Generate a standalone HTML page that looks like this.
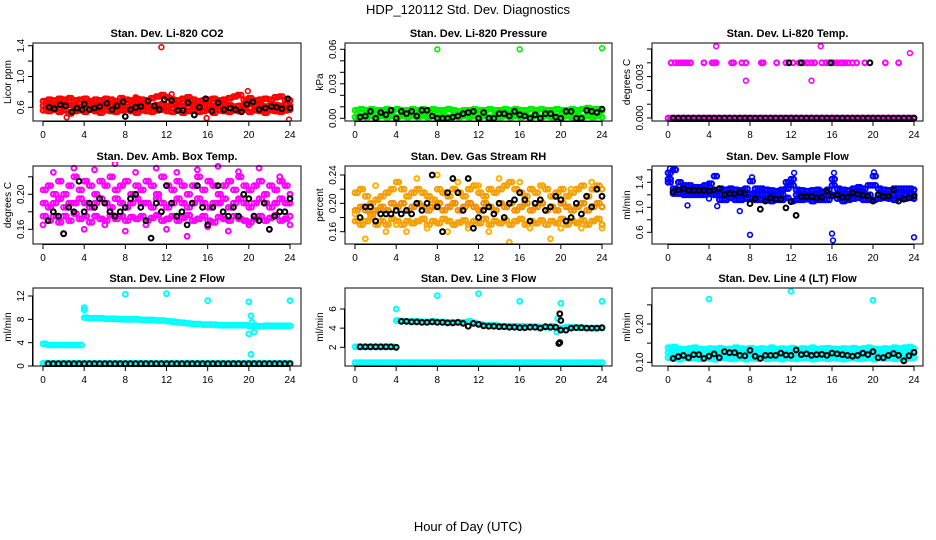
<!DOCTYPE html>
<html><head><meta charset="utf-8">
<style>
html,body{margin:0;padding:0;background:#fff;}
svg{display:block;font-family:"Liberation Sans",Arial,sans-serif;}
</style></head>
<body>
<svg id="chart" width="936" height="540" viewBox="0 0 936 540" xmlns="http://www.w3.org/2000/svg">
<text x="468" y="14" text-anchor="middle" font-size="13">HDP_120112  Std. Dev. Diagnostics</text>
<text x="468" y="531" text-anchor="middle" font-size="13">Hour of Day (UTC)</text>
<g id="panels"></g>
</svg>
<script>
// ---------- data ----------
const xTicks = [0,4,8,12,16,20,24];
// P1 CO2
const co2Hi = [0.68,0.70,0.69,0.71,0.70,0.72,0.69,0.70,0.71,0.68,0.70,0.69,0.71,0.70,0.68,0.72,0.70,0.69,0.71,0.70,0.69,0.72,0.74,0.76,0.73,0.70,0.69,0.71,0.73,0.70,0.68,0.69,0.70,0.71,0.69,0.70,0.72,0.74,0.76,0.70,0.72,0.69,0.70,0.71,0.70,0.73,0.74,0.70,0.69];
const co2Mid = [0.62,0.63,0.61,0.64,0.62,0.63,0.62,0.61,0.63,0.64,0.62,0.61,0.63,0.62,0.64,0.63,0.61,0.62,0.63,0.64,0.62,0.61,0.63,0.64,0.62,0.63,0.61,0.62,0.64,0.63,0.62,0.61,0.63,0.62,0.64,0.62,0.63,0.61,0.62,0.63,0.64,0.62,0.63,0.61,0.62,0.63,0.62,0.64,0.62];
const co2Lo = [0.56,0.55,0.57,0.54,0.56,0.52,0.55,0.56,0.54,0.57,0.55,0.53,0.56,0.55,0.54,0.56,0.57,0.55,0.53,0.56,0.55,0.54,0.56,0.57,0.55,0.54,0.56,0.53,0.55,0.56,0.54,0.55,0.57,0.53,0.56,0.55,0.54,0.56,0.55,0.57,0.54,0.56,0.55,0.53,0.56,0.55,0.54,0.56,0.57];
const co2OutT = [11.5,19.9,2.3,15.9,23.9,12.5,18.9,9.0,14.0];
const co2OutV = [1.38,0.81,0.47,0.46,0.44,0.77,0.76,0.73,0.73];
const co2BlkT = [0.6,1.1,1.7,2.2,2.8,3.3,3.8,4.0,4.5,5.0,5.5,6.2,6.7,7.2,7.8,8.0,8.5,9.0,9.5,10.2,10.8,11.3,11.8,12.5,13.1,13.6,14.1,14.7,15.2,15.8,16.4,17.0,17.6,18.2,18.7,19.3,19.8,20.4,21.0,21.6,22.2,22.7,23.2,23.8,24.0];
const co2BlkV = [0.60,0.58,0.63,0.62,0.54,0.59,0.57,0.64,0.57,0.59,0.61,0.65,0.57,0.62,0.67,0.48,0.57,0.60,0.61,0.68,0.62,0.57,0.70,0.69,0.56,0.56,0.66,0.50,0.60,0.71,0.55,0.66,0.57,0.59,0.57,0.54,0.64,0.67,0.57,0.59,0.61,0.60,0.58,0.71,0.59];
// P2 pressure
const prsHi = [0.007,0.008,0.007,0.008,0.007,0.007,0.008,0.007,0.008,0.007,0.007,0.008,0.007,0.008,0.007,0.008,0.007,0.007,0.008,0.007,0.006,0.007,0.007,0.008,0.007,0.007,0.008,0.007,0.007,0.008,0.007,0.008,0.007,0.007,0.008,0.007,0.008,0.007,0.007,0.008,0.007,0.007,0.008,0.007,0.008,0.009,0.008,0.008,0.007];
const prsLo = [0.001,0.002,0.001,0.002,0.001,0.002,0.001,0.002,0.001,0.002,0.001,0.002,0.001,0.002,0.001,0.002,0.001,0.002,0.001,0.002,0.001,0.002,0.001,0.002,0.001,0.002,0.001,0.002,0.001,0.002,0.001,0.002,0.001,0.002,0.001,0.002,0.001,0.002,0.001,0.002,0.001,0.002,0.001,0.002,0.001,0.002,0.001,0.002,0.001];
const prsOutT = [8,16,24];
const prsOutV = [0.060,0.060,0.061];
const prsBlk = [0.001,0.002,0.006,0.000,0.005,0.003,0.007,0.000,0.006,0.004,0.006,0.002,0.007,0.007,0.002,0.000,0.000,0.000,0.001,0.002,0.004,0.005,0.006,0.000,0.005,0.000,0.000,0.004,0.004,0.002,0.006,0.003,0.002,0.000,0.003,0.000,0.004,0.004,0.001,0.000,0.006,0.006,0.000,0.000,0.007,0.006,0.005,0.008];
// P3 temp
const tmpHiT = [0.3,0.7,1.0,1.3,1.6,1.9,2.2,3.5,4.3,4.5,4.7,6.2,6.4,7.2,7.6,9.1,9.3,10.6,11.5,12.2,12.8,13.3,13.6,14.0,14.3,15.0,15.4,15.7,16.2,16.5,16.8,17.0,17.3,17.6,18.0,18.4,19.2,21.2,22.5];
const tmpHiV = [0.004,0.004,0.004,0.004,0.004,0.004,0.004,0.004,0.004,0.004,0.004,0.004,0.004,0.004,0.004,0.004,0.004,0.004,0.004,0.004,0.004,0.004,0.004,0.004,0.004,0.004,0.004,0.004,0.004,0.004,0.004,0.004,0.004,0.004,0.004,0.004,0.004,0.004,0.004];
const tmpOutT = [4.7,14.9,7.6,14.0,23.6];
const tmpOutV = [0.0052,0.0052,0.0027,0.0027,0.0047];
const tmpBlkHiT = [11.8,13.0,15.9,19.7];
const tmpBlkHiV = [0.004,0.004,0.004,0.004];
// P4 amb box temp
const ambHi = [.205,.21,.20,.215,.20,.21,.22,.205,.215,.21,.20,.215,.21,.22,.205,.21,.215,.20,.21,.205,.215,.21,.20,.22,.21,.205,.215,.21,.20,.21,.22,.205,.215,.21,.20,.21,.215,.205,.22,.21,.205,.21,.215,.20,.21,.205,.215,.21,.20];
const ambMid = [.19,.185,.19,.195,.185,.19,.19,.195,.19,.185,.19,.195,.19,.185,.195,.19,.185,.19,.195,.19,.19,.185,.195,.19,.185,.19,.195,.19,.185,.19,.195,.19,.185,.19,.19,.195,.185,.19,.195,.19,.185,.19,.195,.19,.185,.19,.195,.19,.19];
const ambLo = [.175,.17,.175,.168,.175,.17,.178,.172,.175,.168,.175,.172,.17,.176,.172,.175,.17,.174,.172,.175,.17,.173,.176,.17,.172,.175,.17,.173,.176,.17,.172,.175,.17,.168,.174,.172,.17,.175,.172,.17,.168,.172,.175,.17,.173,.176,.17,.172,.175];
const ambOut = [0.165,0.225,0.155,0.23,0.16,0.228,0.165,0.235,0.158,0.225,0.165,0.23,0.16,0.225,0.152,0.228,0.163,0.232,0.158,0.226,0.165,0.23,0.16,0.22,0.165];
const ambBlk = [.17,.18,.175,.155,.185,.18,.215,.18,.19,.185,.195,.19,.18,.175,.18,.185,.195,.2,.185,.17,.15,.19,.18,.21,.19,.175,.18,.165,.19,.21,.185,.165,.185,.21,.18,.175,.185,.175,.2,.195,.175,.17,.19,.16,.175,.18,.18,.195];
// P5 RH
const rhHi = [.215,.22,.21,.2,.205,.21,.215,.22,.23,.22,.21,.215,.22,.215,.21,.205,.22,.215,.21,.22,.215,.21,.22,.225,.215,.21,.22,.215,.22,.225,.23,.22,.215,.21,.22,.215,.225,.22,.21,.215,.22,.21,.215,.22,.225,.21,.22,.225,.22];
const rhMid = [.19,.195,.19,.185,.19,.195,.19,.2,.195,.2,.19,.195,.2,.195,.19,.195,.2,.19,.195,.2,.19,.195,.2,.195,.19,.2,.195,.19,.2,.195,.2,.19,.195,.2,.19,.195,.2,.19,.195,.19,.2,.195,.19,.195,.2,.19,.195,.2,.195];
const rhLo = [.175,.17,.175,.18,.17,.175,.17,.178,.175,.17,.175,.172,.175,.178,.17,.175,.172,.178,.175,.17,.173,.176,.17,.175,.172,.178,.17,.175,.172,.176,.17,.175,.178,.17,.175,.172,.176,.17,.175,.172,.178,.17,.175,.172,.176,.17,.175,.178,.17];
const rhOut = [.185,.15,.225,.16,.17,.16,.235,.165,.24,.16,.23,.165,.225,.16,.235,.145,.23,.165,.225,.15,.165,.22,.165,.23,.165];
const rhBlk = [.18,.195,.195,.175,.185,.185,.185,.19,.185,.19,.185,.2,.19,.2,.24,.195,.16,.215,.235,.215,.19,.235,.165,.18,.19,.195,.185,.2,.18,.2,.205,.215,.205,.175,.2,.205,.19,.195,.21,.205,.175,.18,.2,.185,.21,.195,.22,.21];
// P6 sample flow
const sfHi = [1.55,1.6,1.4,1.35,1.35,1.32,1.32,1.35,1.38,1.5,1.3,1.28,1.3,1.28,1.27,1.3,1.42,1.3,1.3,1.28,1.27,1.26,1.28,1.4,1.45,1.28,1.27,1.26,1.27,1.28,1.25,1.28,1.45,1.3,1.28,1.27,1.3,1.32,1.3,1.35,1.5,1.3,1.28,1.27,1.3,1.3,1.3,1.3,1.28];
const sfMid = [1.45,1.3,1.28,1.25,1.26,1.25,1.25,1.26,1.27,1.25,1.2,1.2,1.22,1.2,1.2,1.22,1.22,1.2,1.2,1.2,1.18,1.2,1.2,1.3,1.35,1.2,1.2,1.2,1.18,1.2,1.2,1.2,1.35,1.2,1.18,1.2,1.2,1.22,1.2,1.2,1.35,1.2,1.2,1.2,1.2,1.22,1.2,1.22,1.2];
const sfLo = [1.4,1.22,1.22,1.2,1.2,1.2,1.2,1.2,1.22,1.2,1.12,1.12,1.15,1.12,1.12,1.14,1.15,1.12,1.12,1.12,1.1,1.12,1.12,1.15,1.1,1.12,1.12,1.13,1.1,1.12,1.12,1.12,1.2,1.14,1.1,1.12,1.14,1.15,1.12,1.12,1.12,1.14,1.15,1.14,1.12,1.15,1.14,1.15,1.14];
const sfOutT = [1.9,7.0,8.0,16.0,16.1,24.0,4.0,4.8,0.2,8.2,12.3,16.2,20.1];
const sfOutV = [1.03,0.94,0.56,0.58,0.47,0.52,1.14,1.02,1.62,1.48,1.55,1.55,1.56];
const sfBlk = [1.25,1.28,1.3,1.27,1.27,1.27,1.27,1.26,1.28,1.3,1.2,1.22,1.22,1.24,1.22,1.06,1.14,0.97,1.1,1.15,1.13,1.13,0.99,1.09,0.87,1.17,1.17,1.17,1.15,1.16,1.26,1.18,1.2,1.16,1.16,1.23,1.21,1.19,1.18,1.1,1.2,1.17,1.18,1.28,1.1,1.13,1.15,1.18];
// P7 line 2
const l2Hi = [3.8,3.6,3.6,3.6,3.6,3.6,3.6,3.6,8.3,8.2,8.2,8.2,8.1,8.1,8.1,8.0,8.0,8.0,8.0,7.9,7.9,7.9,7.8,7.8,7.7,7.6,7.5,7.4,7.3,7.2,7.2,7.1,7.1,7.1,7.0,7.0,7.0,7.0,7.0,7.0,6.9,6.9,6.8,6.9,6.9,6.9,6.9,6.9,6.9];
const l2Lo = [0.5,0.5,0.5,0.5,0.5,0.5,0.5,0.5,0.5,0.5,0.5,0.5,0.5,0.5,0.5,0.5,0.5,0.5,0.5,0.5,0.5,0.5,0.5,0.5,0.5,0.5,0.5,0.5,0.5,0.5,0.5,0.5,0.5,0.5,0.5,0.5,0.5,0.5,0.5,0.5,0.5,0.5,0.5,0.5,0.5,0.5,0.5,0.5,0.5];
const l2OutT = [4.0,4.0,8.0,12.0,16.0,20.0,24.0,20.0,20.2,20.3,20.2,20.5];
const l2OutV = [10.0,9.6,12.3,12.4,11.2,11.0,11.2,5.5,8.6,7.5,2.0,5.8];
const l2Blk = [0.4,0.4,0.4,0.4,0.4,0.4,0.4,0.4,0.4,0.4,0.4,0.4,0.4,0.4,0.4,0.4,0.4,0.4,0.4,0.4,0.4,0.4,0.4,0.4,0.4,0.4,0.4,0.4,0.4,0.4,0.4,0.4,0.4,0.4,0.4,0.4,0.4,0.4,0.4,0.4,0.4,0.4,0.4,0.4,0.4,0.4,0.4,0.4];
// P8 line 3
const l3Hi = [2.05,2.05,2.05,2.05,2.05,2.05,2.05,2.05,4.8,4.75,4.7,4.7,4.7,4.65,4.65,4.7,4.65,4.65,4.6,4.6,4.6,4.6,4.7,4.55,4.4,4.3,4.3,4.3,4.2,4.2,4.2,4.2,4.2,4.15,4.15,4.15,4.1,4.1,4.2,4.0,4.0,4.1,4.1,4.05,4.05,4.0,4.0,4.0,4.0];
const l3Lo = [0.4,0.4,0.4,0.4,0.4,0.4,0.4,0.4,0.4,0.4,0.4,0.4,0.4,0.4,0.4,0.4,0.4,0.4,0.4,0.4,0.4,0.4,0.4,0.4,0.4,0.4,0.4,0.4,0.4,0.4,0.4,0.4,0.4,0.4,0.4,0.4,0.4,0.4,0.4,0.4,0.4,0.4,0.4,0.4,0.4,0.4,0.4,0.4,0.4];
const l3OutT = [4.0,8.0,12.0,16.0,20.0,24.0,19.7,19.6];
const l3OutV = [6.0,7.4,7.6,6.8,6.6,6.8,5.0,3.6];
const l3Blk = [2.05,2.05,2.05,2.05,2.05,2.05,2.05,2.0,4.7,4.7,4.65,4.65,4.6,4.6,4.65,4.6,4.6,4.55,4.55,4.6,4.5,4.2,4.5,4.4,4.25,4.2,4.2,4.15,4.15,4.1,4.1,4.05,4.05,4.1,4.1,4.0,4.15,4.1,4.1,3.8,3.8,4.0,4.05,4.05,4.0,4.0,4.0,4.05];
const l3BlkOutT = [19.8,19.9,19.9,20.0];
const l3BlkOutV = [2.4,2.5,5.5,4.8];
// P9 line 4
const l4Hi = [.138,.14,.135,.134,.136,.138,.135,.134,.136,.135,.137,.134,.135,.138,.136,.135,.137,.134,.136,.135,.138,.134,.136,.135,.137,.134,.136,.135,.138,.134,.136,.137,.135,.134,.136,.135,.137,.134,.136,.138,.135,.134,.136,.135,.138,.136,.138,.14,.136];
const l4Mid = [.125,.124,.126,.123,.125,.124,.126,.125,.124,.126,.123,.125,.124,.126,.125,.123,.124,.126,.125,.124,.123,.125,.126,.124,.125,.123,.126,.124,.125,.126,.124,.123,.125,.126,.124,.125,.123,.126,.124,.125,.126,.124,.123,.125,.126,.124,.125,.126,.124];
const l4Lo = [.112,.11,.108,.112,.11,.111,.109,.112,.11,.108,.111,.112,.109,.11,.112,.108,.111,.11,.112,.109,.11,.111,.108,.112,.11,.109,.111,.112,.108,.11,.111,.109,.112,.11,.108,.111,.112,.109,.11,.112,.108,.111,.11,.112,.109,.11,.108,.111,.112];
const l4OutT = [4.0,12.0,20.0];
const l4OutV = [0.265,0.285,0.262];
const l4Blk = [.11,.115,.118,.112,.12,.12,.11,.116,.122,.112,.128,.125,.125,.118,.117,.131,.116,.11,.118,.118,.118,.124,.119,.118,.132,.12,.122,.118,.12,.121,.118,.124,.122,.12,.118,.116,.118,.124,.12,.128,.112,.112,.118,.123,.118,.104,.117,.126];

// ---------- helpers ----------
const NS = "http://www.w3.org/2000/svg";
const root = document.getElementById('panels');
function mk(tag, attrs, parent){ const e=document.createElementNS(NS,tag); for(const k in attrs) e.setAttribute(k,attrs[k]); (parent||root).appendChild(e); return e; }
const grid49 = []; for(let i=0;i<49;i++) grid49.push(i*0.5);
const gridB = []; for(let i=0;i<49;i++) gridB.push(Math.min(24, i*0.5+0.25));
const grid48 = []; for(let i=0;i<48;i++) grid48.push(0.5+i*0.5);
const grid25 = []; for(let i=0;i<25;i++) grid25.push(i);

function panel(p){
  const g = mk('g',{});
  
  
  const xs = t => p.x0 + (p.x24 - p.x0) * t / 24;
  const ys = v => p.ya[1] + (v - p.ya[0]) * (p.yb[1] - p.ya[1]) / (p.yb[0] - p.ya[0]);
  const tt = mk('text',{x:(p.L+p.R)/2, y:p.T-6, 'text-anchor':'middle','font-size':'11','font-weight':'bold'}, g);
  tt.textContent = p.title;
  
  
  const clip = 'clip-' + p.name;
  const cp = mk('clipPath',{id:clip}, g);
  mk('rect',{x:p.L, y:p.T-4, width:p.R-p.L, height:p.B-p.T+4}, cp);
  const sg = mk('g',{'clip-path':'url(#'+clip+')'}, g);
  p.series.forEach(s => {
    const sgg = mk('g',{fill:'none', stroke:s.c, 'stroke-width': s.w || '1.6'}, sg);
    
    
    const times = s.dense ? [s.t, gridB] : [s.t];
    times.forEach(tarr => {
      for(let i=0;i<s.v.length;i++){
        const c = mk('circle',{cx:xs(tarr[i]).toFixed(1), cy:ys(s.v[i]).toFixed(1), r:'2.4'}, sgg);
        
        
      }
    });
  });
  const bx = mk('rect',{x:p.L, y:p.T, width:p.R-p.L, height:p.B-p.T, fill:'none', stroke:'#000', 'stroke-width':'1'}, g);
  
  
  const xa = mk('g',{stroke:'#000','stroke-width':'1'}, g);
  
  
  mk('line',{x1:xs(0), x2:xs(24), y1:p.B+0.5, y2:p.B+0.5}, xa);
  xTicks.forEach(t => {
    mk('line',{x1:xs(t), x2:xs(t), y1:p.B, y2:p.B+5}, xa);
    const l = mk('text',{x:xs(t), y:p.B+17, 'text-anchor':'middle','font-size':'10', stroke:'none', fill:'#000'}, xa);
    l.textContent = t;
    
    
  });
  const ya = mk('g',{stroke:'#000','stroke-width':'1'}, g);
  
  
  mk('line',{x1:p.L-0.5, x2:p.L-0.5, y1:ys(p.yt[0]), y2:ys(p.yt[p.yt.length-1])}, ya);
  p.yt.forEach(v => mk('line',{x1:p.L-5, x2:p.L, y1:ys(v), y2:ys(v)}, ya));
  p.yl.forEach(lb => {
    const yy = ys(parseFloat(lb));
    const l = mk('text',{x:p.L-9, y:yy, 'text-anchor':'middle','font-size':'10', stroke:'none', fill:'#000', transform:'rotate(-90 '+(p.L-9)+' '+yy+')'}, ya);
    l.textContent = lb;
    
    
  });
  const ym = (p.T+p.B)/2;
  const yt = mk('text',{x:p.L-22, y:ym, 'text-anchor':'middle','font-size':'10', fill:'#000', transform:'rotate(-90 '+(p.L-22)+' '+ym+')'}, g);
  yt.textContent = p.ytitle;
  
  
}

const C1={L:33,R:301,x0:43,x24:290}, C2={L:345,R:612,x0:355,x24:602}, C3={L:652,R:923,x0:668,x24:914};
const R1={T:43,B:121}, R2={T:166,B:244}, R3={T:288,B:366};
const zeros48 = grid48.map(()=>0);
const zerosQ = []; for(let i=0;i<97;i++) zerosQ.push(0);
const gridQ = []; for(let i=0;i<97;i++) gridQ.push(i*0.25);

panel(Object.assign({name:'panel-co2', title:'Stan. Dev. Li-820 CO2', ytitle:'Licor ppm', ya:[0.6,107.3], yb:[1.4,45.7], yt:[0.6,0.8,1.0,1.2,1.4], yl:['0.6','1.0','1.4'],
  series:[{n:'co2-red-hi',c:'#ff0000',t:grid49,v:co2Hi,dense:1,w:'2'},{n:'co2-red-mid',c:'#ff0000',t:grid49,v:co2Mid,dense:1,w:'2'},{n:'co2-red-lo',c:'#ff0000',t:grid49,v:co2Lo,dense:1,w:'2'},{n:'co2-red-out',c:'#ff0000',t:co2OutT,v:co2OutV},{n:'co2-black',c:'#000',t:co2BlkT,v:co2BlkV,w:'2'}]}, C1, R1));
panel(Object.assign({name:'panel-pressure', title:'Stan. Dev. Li-820 Pressure', ytitle:'kPa', ya:[0,118.3], yb:[0.06,49.3], yt:[0,0.01,0.02,0.03,0.04,0.05,0.06], yl:['0.00','0.03','0.06'],
  series:[{n:'prs-green-hi',c:'#00ee00',t:grid49,v:prsHi,dense:1,w:'2'},{n:'prs-green-lo',c:'#00ee00',t:grid49,v:prsLo,dense:1,w:'2'},{n:'prs-green-out',c:'#00ee00',t:prsOutT,v:prsOutV},{n:'prs-black',c:'#000',t:grid48,v:prsBlk,w:'2'}]}, C2, R1));
panel(Object.assign({name:'panel-temp', title:'Stan. Dev. Li-820 Temp.', ytitle:'degrees C', ya:[0,118], yb:[0.003,76.6], yt:[0,0.001,0.002,0.003,0.004,0.005], yl:['0.000','0.003'],
  series:[{n:'tmp-mag-zero',c:'#ff00ff',t:gridQ,v:zerosQ,w:'2'},{n:'tmp-mag-hi',c:'#ff00ff',t:tmpHiT,v:tmpHiV,w:'2'},{n:'tmp-mag-out',c:'#ff00ff',t:tmpOutT,v:tmpOutV},{n:'tmp-black-zero',c:'#000',t:grid48,v:zeros48,w:'2'},{n:'tmp-black-hi',c:'#000',t:tmpBlkHiT,v:tmpBlkHiV,w:'2'}]}, C3, R1));
panel(Object.assign({name:'panel-ambtemp', title:'Stan. Dev. Amb. Box Temp.', ytitle:'degrees C', ya:[0.16,229.3], yb:[0.20,194.3], yt:[0.16,0.18,0.20,0.22], yl:['0.16','0.20'],
  series:[{n:'amb-mag-hi',c:'#ff00ff',t:grid49,v:ambHi,dense:1,w:'2'},{n:'amb-mag-mid',c:'#ff00ff',t:grid49,v:ambMid,dense:1,w:'2'},{n:'amb-mag-lo',c:'#ff00ff',t:grid49,v:ambLo,dense:1,w:'2'},{n:'amb-mag-out',c:'#ff00ff',t:grid25,v:ambOut,w:'2'},{n:'amb-black',c:'#000',t:grid48,v:ambBlk,w:'2'}]}, C1, R2));
panel(Object.assign({name:'panel-rh', title:'Stan. Dev. Gas Stream RH', ytitle:'percent', ya:[0.16,231.7], yb:[0.24,175], yt:[0.16,0.18,0.20,0.22,0.24], yl:['0.16','0.20','0.24'],
  series:[{n:'rh-orange-hi',c:'#f5a000',t:grid49,v:rhHi,dense:1,w:'2'},{n:'rh-orange-mid',c:'#f09000',t:grid49,v:rhMid,dense:1,w:'2'},{n:'rh-orange-lo',c:'#f5a000',t:grid49,v:rhLo,dense:1,w:'2'},{n:'rh-orange-out',c:'#ffb000',t:grid25,v:rhOut,w:'2'},{n:'rh-black',c:'#000',t:grid48,v:rhBlk,w:'2'}]}, C2, R2));
panel(Object.assign({name:'panel-sampleflow', title:'Stan. Dev. Sample Flow', ytitle:'ml/min', ya:[0.6,232.3], yb:[1.4,182.3], yt:[0.6,0.8,1.0,1.2,1.4,1.6], yl:['0.6','1.0','1.4'],
  series:[{n:'sf-blue-hi',c:'#0000ff',t:grid49,v:sfHi,dense:1,w:'2'},{n:'sf-blue-mid',c:'#0000ff',t:grid49,v:sfMid,dense:1,w:'2'},{n:'sf-blue-lo',c:'#0000ff',t:grid49,v:sfLo,dense:1,w:'2'},{n:'sf-blue-out',c:'#0000ff',t:sfOutT,v:sfOutV},{n:'sf-black',c:'#000',t:grid48,v:sfBlk,w:'2'}]}, C3, R2));
panel(Object.assign({name:'panel-line2', title:'Stan. Dev. Line 2 Flow', ytitle:'ml/min', ya:[0,366], yb:[12,296], yt:[0,4,8,12], yl:['0','4','8','12'],
  series:[{n:'l2-cyan-hi',c:'#00ffff',t:grid49,v:l2Hi,dense:1,w:'2'},{n:'l2-cyan-lo',c:'#00ffff',t:grid49,v:l2Lo,dense:1,w:'2'},{n:'l2-cyan-out',c:'#00ffff',t:l2OutT,v:l2OutV,w:'2'},{n:'l2-black',c:'#000',t:grid48,v:l2Blk,w:'2'}]}, C1, R3));
panel(Object.assign({name:'panel-line3', title:'Stan. Dev. Line 3 Flow', ytitle:'ml/min', ya:[2,347.3], yb:[6,309], yt:[2,4,6], yl:['2','4','6'],
  series:[{n:'l3-cyan-hi',c:'#00ffff',t:grid49,v:l3Hi,dense:1,w:'2'},{n:'l3-cyan-lo',c:'#00ffff',t:grid49,v:l3Lo,dense:1,w:'2'},{n:'l3-cyan-out',c:'#00ffff',t:l3OutT,v:l3OutV,w:'2'},{n:'l3-black',c:'#000',t:grid48,v:l3Blk,w:'2'},{n:'l3-black-out',c:'#000',t:l3BlkOutT,v:l3BlkOutV,w:'2'}]}, C2, R3));
panel(Object.assign({name:'panel-line4', title:'Stan. Dev. Line 4 (LT) Flow', ytitle:'ml/min', ya:[0.10,362.3], yb:[0.20,324], yt:[0.10,0.15,0.20,0.25], yl:['0.10','0.20'],
  series:[{n:'l4-cyan-hi',c:'#00ffff',t:grid49,v:l4Hi,dense:1,w:'2'},{n:'l4-cyan-mid',c:'#00ffff',t:grid49,v:l4Mid,dense:1,w:'2'},{n:'l4-cyan-lo',c:'#00ffff',t:grid49,v:l4Lo,dense:1,w:'2'},{n:'l4-cyan-out',c:'#00ffff',t:l4OutT,v:l4OutV,w:'2'},{n:'l4-black',c:'#000',t:grid48,v:l4Blk,w:'2'}]}, C3, R3));
</script>
</body></html>
